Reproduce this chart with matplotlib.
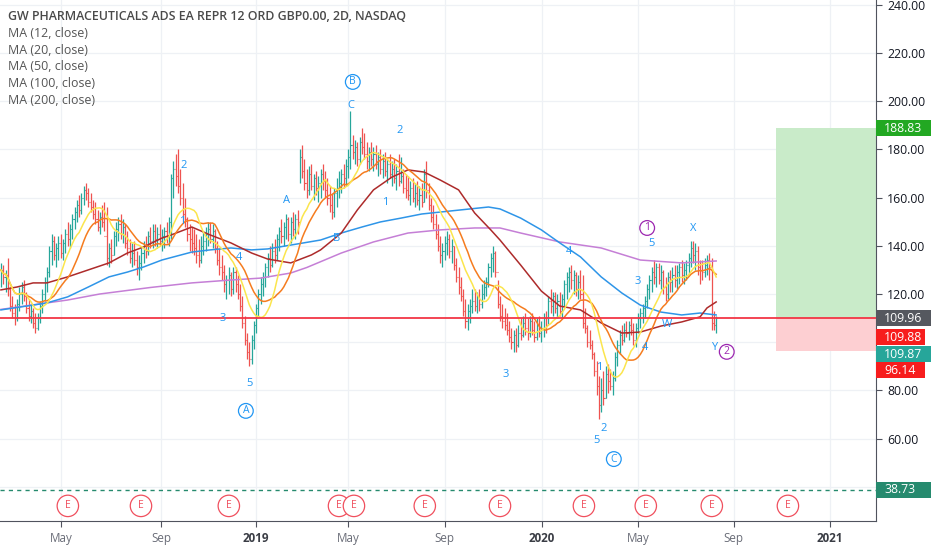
import matplotlib
matplotlib.use("Agg")
import matplotlib.pyplot as plt
import matplotlib.patches as mpatches
import matplotlib.transforms as mtrans
import numpy as np
import pandas as pd

plt.rcParams['font.family'] = ['Open Sans', 'DejaVu Sans']

# ===== PRICE DATA (2D bars) =====
closes = [
    130, 127, 128, 122, 115, 112, 110, 116, 120, 123, 119, 114, 111, 113, 108, 106, 110, 115, 120, 125,
    129, 138, 142, 136, 139, 141, 137, 141, 145, 143, 147, 151, 154, 157, 155, 160, 163, 162, 158, 156,
    153, 151, 148, 152, 150, 144, 135, 139, 136, 144, 147, 149, 145, 148, 141, 139, 135, 137, 134, 131,
    133, 137, 140, 138, 144, 142, 146, 143, 145, 142, 144, 146, 144, 150, 168, 172, 169, 165, 160, 153,
    151, 145, 143, 141, 139, 136, 134, 140, 142, 145, 147, 143, 146, 139, 134, 131, 129, 124, 126, 128,
    122, 129, 124, 120, 115, 108, 101, 96, 93, 101, 107, 114, 120, 124, 127, 131, 135, 132, 138, 136,
    143, 146, 144, 148, 151, 145, 150, 147, 151, 150, 177, 171, 166, 163, 170, 165, 168, 164, 166, 170,
    167, 163, 160, 157, 154, 162, 164, 166, 170, 168, 173, 177, 182, 179, 181, 176, 183, 181, 178, 175,
    179, 176, 178, 174, 177, 172, 175, 171, 174, 170, 172, 168, 171, 167, 169, 164, 163, 161, 164, 160,
    162, 159, 161, 158, 170, 163, 157, 152, 149, 145, 140, 136, 138, 141, 143, 138, 140, 132, 127, 123,
    119, 113, 109, 113, 115, 117, 115, 119, 116, 120, 123, 125, 131, 135, 137, 129, 116, 111, 109, 107,
    105, 102, 100, 103, 99, 104, 103, 108, 106, 104, 109, 105, 102, 107, 104, 106, 110, 107, 117, 115,
    119, 114, 117, 113, 118, 124, 127, 129, 126, 128, 122, 125, 120, 108, 106, 100, 99, 95, 88, 82,
    74, 80, 77, 87, 84, 82, 85, 94, 99, 103, 101, 105, 104, 107, 105, 101, 106, 110, 112, 114,
    117, 122, 126, 129, 127, 131, 126, 129, 123, 120, 127, 125, 128, 126, 129, 131, 128, 130, 132, 135,
    139, 136, 138, 131, 130, 129, 132, 134, 131, 108, 107, 109.87,
]
highs = [
    133, 132, 130, 135, 123, 119, 116, 118, 123, 125, 126, 121, 118, 116, 114, 112, 112, 117, 122, 127,
    131, 140, 145, 144, 141, 144, 145, 143, 147, 150, 149, 153, 156, 159, 161, 162, 165, 166, 164, 162,
    159, 158, 155, 154, 157, 158, 156, 141, 143, 146, 150, 152, 153, 151, 149, 146, 143, 141, 142, 138,
    136, 139, 142, 144, 146, 148, 149, 149, 148, 149, 147, 148, 150, 152, 170, 175, 178, 180, 172, 166,
    160, 152, 149, 148, 147, 145, 143, 144, 146, 148, 150, 150, 149, 147, 142, 139, 136, 132, 128, 131,
    129, 131, 131, 128, 124, 119, 111, 104, 100, 103, 109, 116, 122, 127, 129, 133, 137, 140, 141, 143,
    145, 148, 151, 150, 153, 152, 152, 154, 153, 155, 180, 182, 176, 172, 173, 174, 170, 171, 169, 172,
    174, 171, 168, 165, 162, 164, 168, 171, 172, 174, 176, 180, 196, 186, 184, 183, 185, 189, 187, 183,
    181, 183, 181, 182, 179, 180, 178, 179, 176, 178, 175, 176, 174, 178, 177, 172, 170, 169, 167, 168,
    166, 167, 165, 166, 172, 175, 166, 160, 157, 153, 149, 144, 141, 144, 146, 145, 143, 140, 135, 131,
    127, 122, 118, 116, 118, 122, 122, 121, 122, 124, 126, 127, 133, 137, 140, 138, 126, 119, 116, 114,
    112, 109, 106, 105, 106, 107, 110, 111, 112, 110, 111, 112, 109, 110, 111, 109, 112, 113, 119, 122,
    121, 121, 120, 121, 120, 126, 129, 131, 132, 130, 129, 128, 130, 128, 114, 107, 105, 101, 96, 92,
    86, 85, 88, 90, 91, 89, 88, 96, 101, 105, 107, 108, 109, 109, 110, 108, 108, 112, 114, 116,
    119, 124, 128, 131, 134, 133, 133, 132, 130, 127, 129, 130, 131, 132, 132, 133, 134, 133, 134, 137,
    142, 142, 141, 140, 134, 134, 135, 136, 137, 135, 113, 111,
]
lows = [
    123, 124, 121, 119, 113, 110, 107, 109, 113, 116, 117, 112, 109, 108, 106, 104, 105, 108, 112, 117,
    121, 127, 132, 134, 131, 134, 135, 134, 137, 140, 139, 143, 147, 150, 152, 153, 157, 159, 156, 154,
    151, 149, 146, 145, 148, 146, 132, 131, 133, 136, 140, 142, 143, 141, 139, 136, 133, 131, 132, 128,
    126, 130, 133, 135, 136, 139, 139, 140, 139, 140, 138, 139, 141, 140, 143, 160, 165, 162, 157, 150,
    148, 142, 138, 137, 136, 133, 131, 133, 136, 138, 140, 141, 139, 137, 132, 128, 126, 121, 118, 120,
    119, 120, 121, 118, 113, 106, 99, 93, 90, 91, 97, 104, 111, 116, 119, 123, 127, 129, 131, 133,
    134, 138, 141, 140, 143, 142, 141, 144, 143, 145, 166, 168, 163, 160, 161, 163, 159, 161, 158, 160,
    163, 160, 157, 154, 151, 152, 156, 160, 162, 164, 165, 168, 172, 176, 174, 173, 174, 178, 176, 172,
    171, 173, 171, 172, 169, 170, 168, 169, 166, 168, 165, 166, 163, 165, 166, 162, 160, 159, 157, 158,
    156, 157, 155, 156, 158, 160, 155, 150, 147, 143, 138, 133, 131, 134, 136, 135, 133, 130, 125, 120,
    117, 111, 106, 105, 108, 112, 113, 112, 113, 114, 118, 119, 123, 127, 129, 127, 114, 109, 106, 105,
    103, 100, 97, 96, 96, 98, 101, 102, 103, 101, 102, 103, 100, 101, 102, 100, 102, 104, 107, 112,
    111, 112, 110, 111, 110, 115, 118, 121, 122, 120, 119, 118, 118, 106, 104, 98, 97, 93, 86, 78,
    68, 71, 74, 77, 79, 80, 78, 84, 90, 95, 99, 100, 102, 101, 103, 99, 98, 104, 106, 108,
    110, 114, 118, 121, 124, 123, 124, 122, 120, 117, 118, 121, 121, 123, 122, 124, 125, 124, 126, 128,
    131, 133, 130, 128, 124, 126, 127, 128, 126, 105, 105, 104,
]

# ===== LONGER MOVING AVERAGES (sampled off the chart) =====
ma50_idx = [0, 7, 14, 20, 29, 38, 47, 55, 62, 70, 74, 83, 91, 100, 109, 116, 126, 135, 139, 148, 155,
            162, 170, 177, 184, 191, 199, 206, 213, 217, 226, 235, 243, 252, 261, 270, 278, 287, 296,
            304, 307, 311]
ma50_val = [121.7, 122.9, 124.6, 124.6, 127.1, 130.0, 132.9, 137.0, 139.5, 143.2, 144.5, 147.8, 144.5,
            141.2, 137.0, 134.5, 132.9, 136.2, 138.3, 145.3, 154.9, 163.2, 168.5, 171.5, 170.6, 167.3,
            163.2, 153.6, 146.6, 142.4, 132.0, 121.2, 115.0, 113.4, 108.0, 103.8, 104.2, 106.7, 108.4,
            110.5, 114.2, 116.7]
ma100_idx = [0, 14, 20, 29, 38, 47, 55, 62, 70, 83, 91, 100, 109, 116, 126, 139, 148, 157, 165, 174,
             183, 191, 200, 212, 217, 226, 235, 243, 252, 261, 270, 278, 287, 296, 304, 311]
ma100_val = [113.4, 115.4, 116.3, 118.8, 122.9, 127.1, 129.1, 131.2, 134.1, 137.4, 138.3, 139.1, 138.3,
             138.7, 140.3, 142.4, 145.3, 147.8, 149.9, 151.5, 153.2, 154.0, 154.9, 156.1, 155.3, 151.5,
             146.6, 141.2, 135.4, 127.1, 120.4, 115.4, 112.5, 111.3, 112.1, 111.3]
ma200_idx = [0, 20, 29, 43, 65, 83, 100, 113, 126, 133, 148, 162, 177, 191, 206, 217, 226, 243, 261,
             278, 296, 311]
ma200_val = [113.6, 116.3, 117.5, 120.0, 122.7, 124.6, 125.8, 126.6, 128.7, 131.0, 137.0, 141.6, 145.3,
             146.6, 147.4, 147.4, 145.3, 141.6, 139.1, 134.1, 132.9, 133.7]

# ===== AXIS LABELS / EVENTS =====
date_pos = [26.1, 69.6, 110.9, 150.9, 193.0, 235.2, 277.0, 318.7, 360.4]
date_labels = ['May', 'Sep', '2019', 'May', 'Sep', '2020', 'May', 'Sep', '2021']
earnings_pos = [29.1, 60.9, 99.1, 147.0, 153.5, 184.3, 217.0, 253.5, 280.4, 309.1, 342.2]

# ===== ELLIOTT WAVE LABELS =====
wave_text = ['2', '1', '3', '4', '5', 'A', 'A', 'B', 'C', 'B', '1', '2', '3', '4', '1', '2', '5', 'C',
             '3', '4', '5', '1', 'W', 'X', 'Y', '2']
wave_idx = [79.6, 79.0, 96.5, 103.5, 108.3, 106.5, 124.0, 145.7, 152.0, 153.0, 167.0, 173.5, 219.6,
            247.0, 260.0, 262.0, 259.0, 266.5, 277.0, 280.0, 283.0, 281.0, 289.5, 301.0, 310.0, 315.6]
wave_price = [173.5, 150.0, 110.0, 135.0, 82.7, 71.5, 159.0, 143.2, 198.4, 208.0, 157.8, 188.0, 86.8,
              137.8, 89.7, 64.0, 59.0, 51.5, 125.0, 98.0, 141.0, 147.4, 107.5, 147.0, 98.0, 96.0]
wave_style = ['p', 'p', 'p', 'p', 'p', 'cb', 'p', 'p', 'p', 'cb', 'p', 'p', 'p', 'p', 'p', 'p', 'p', 'cb',
              'p', 'p', 'p', 'cv', 'p', 'p', 'p', 'cv']

# ===== POSITION TOOL / LEVELS =====
entry_price = 109.96
target_price = 188.83
stop_price = 96.14
support_price = 38.73
box_start = 337

tag_values = [188.83, 109.96, 109.88, 109.87, 96.14, 38.73]
tag_colors = ['#22a822', '#55585f', '#f71d1d', '#26a69a', '#f71d1d', '#268a6e']

title = "GW PHARMACEUTICALS ADS EA REPR 12 ORD GBP0.00, 2D, NASDAQ"
legend_rows = ["MA (12, close)", "MA (20, close)", "MA (50, close)", "MA (100, close)", "MA (200, close)"]

# ===== FIGURE =====
W, H = 932, 550
fig = plt.figure(figsize=(W / 100, H / 100), dpi=100)
ax = fig.add_axes([0, 29 / H, 876 / W, 521 / H])
ax.set_xlim(-0.4, 380.5)
ax.set_ylim(25.8, 242.0)

grid_c = '#eef1f5'
for gp in date_pos:
    ax.axvline(gp, color=grid_c, lw=0.9, zorder=0)
for gy in range(40, 241, 20):
    ax.axhline(gy, color=grid_c, lw=0.9, zorder=0)

# ===== POSITION BOX =====
ax.add_patch(mpatches.Rectangle((box_start, entry_price), 380.5 - box_start, target_price - entry_price,
                                fc='#c9ebc9', ec='none', zorder=1))
ax.add_patch(mpatches.Rectangle((box_start, stop_price), 380.5 - box_start, entry_price - stop_price,
                                fc='#fdcfd2', ec='none', zorder=1))

# ===== OHLC BARS =====
idx = np.arange(len(closes))
closes_a = np.array(closes, dtype=float)
opens_a = np.concatenate([[closes_a[0]], closes_a[:-1]])
cols = np.where(closes_a >= opens_a, '#26a69a', '#ef5350')
ax.vlines(idx, lows, highs, colors=cols, lw=0.9, zorder=2)
ax.hlines(opens_a, idx - 0.45, idx, colors=cols, lw=0.8, zorder=2)
ax.hlines(closes_a, idx, idx + 0.45, colors=cols, lw=0.8, zorder=2)

# ===== MOVING AVERAGES =====
s = pd.Series(closes_a)
ma12 = s.rolling(12, min_periods=1).mean()
ma20 = s.rolling(20, min_periods=1).mean()
ax.plot(ma200_idx, ma200_val, color='#c57fd6', lw=1.1, zorder=3)
ax.plot(ma100_idx, ma100_val, color='#2e95e8', lw=1.1, zorder=3)
ax.plot(ma50_idx, ma50_val, color='#ad2b2b', lw=1.1, zorder=3)
ax.plot(idx, ma20, color='#f57c1f', lw=1.1, zorder=3)
ax.plot(idx, ma12, color='#fbe54d', lw=1.1, zorder=3)

# ===== LEVEL LINES =====
ax.axhline(entry_price, color='#f23645', lw=1.3, zorder=3.5)
ax.axhline(support_price, color='#268a6e', lw=1.0, ls=(0, (3, 3)), zorder=3.5)

# ===== WAVE LABELS =====
for t, xi, pv, st in zip(wave_text, wave_idx, wave_price, wave_style):
    if st == 'p':
        ax.text(xi, pv, t, color='#2196f3', fontsize=8, ha='center', va='center', zorder=5)
    else:
        c = '#2196f3' if st == 'cb' else '#9c27b0'
        ax.text(xi, pv, t, color=c, fontsize=7.5, ha='center', va='center', zorder=5,
                bbox=dict(boxstyle='circle,pad=0.18', fc='white', ec=c, lw=0.9))

# ===== EARNINGS MARKERS =====
xt = ax.get_xaxis_transform()
for ep in earnings_pos:
    ax.text(ep, 0.029, 'E', transform=xt, color='#f0505e', fontsize=7.5, ha='center', va='center',
            zorder=5, bbox=dict(boxstyle='circle,pad=0.5', fc='white', ec='#f0505e', lw=0.9))

# ===== AXES STYLE =====
for side in ['top', 'left']:
    ax.spines[side].set_visible(False)
ax.spines['right'].set_color('#50535e')
ax.spines['bottom'].set_color('#50535e')
ax.yaxis.tick_right()
ax.set_yticks([60, 80, 120, 140, 160, 180, 200, 220, 240])
ax.yaxis.set_major_formatter(matplotlib.ticker.FormatStrFormatter('%.2f'))
ax.tick_params(axis='y', length=4, color='#50535e', labelsize=8.8, labelcolor='#131722', pad=4)
ax.set_xticks(date_pos)
ax.set_xticklabels(date_labels)
ax.tick_params(axis='x', length=4, color='#50535e', labelsize=8.4, labelcolor='#6a6d78', pad=4)
for lab in ax.get_xticklabels():
    if lab.get_text().isdigit():
        lab.set_fontweight('bold')
        lab.set_color('#3a3d45')

# ===== LEGEND TEXT =====
fig.text(8 / W, 1 - 17 / H, title, fontsize=8.95, fontweight='semibold', color='#4a4a4a', va='center')
for k, row in enumerate(legend_rows):
    fig.text(8 / W, 1 - (33.5 + 16.7 * k) / H, row, fontsize=8.9, color='#555555', va='center')

# ===== PRICE TAGS ON RIGHT AXIS =====
tag_shift = [0, 0, 19, 36, 19, 0]
tag_right = [931, 931, 925, 931, 925, 931]
ident = mtrans.IdentityTransform()
for v, c, dy, xr in zip(tag_values, tag_colors, tag_shift, tag_right):
    yd = ax.transData.transform((0, v))[1] - dy
    fig.add_artist(mpatches.Rectangle((876, yd - 8), xr - 876, 16, fc=c, ec='none', transform=ident))
    fig.text(884, yd, f"{v:.2f}", transform=ident, fontsize=8.8, color='white', va='center', ha='left')

fig.savefig("out.png", dpi=100)
